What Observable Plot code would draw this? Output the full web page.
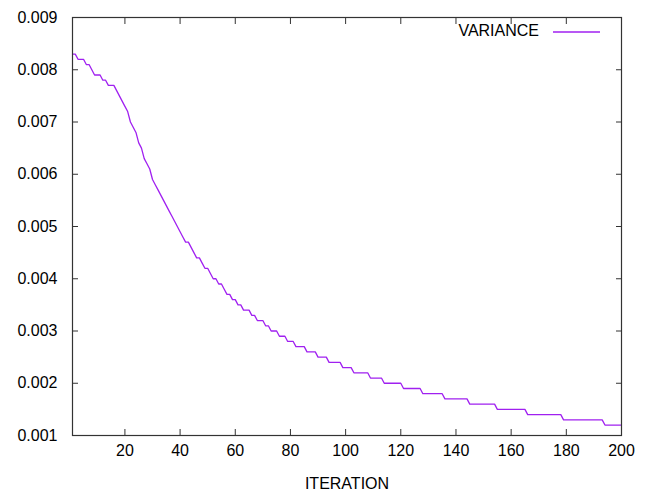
<!DOCTYPE html>
<html>
<head>
<meta charset="utf-8">
<script src="https://cdn.jsdelivr.net/npm/d3@7"></script>
<script src="https://cdn.jsdelivr.net/npm/@observablehq/plot@0.6"></script>
<style>
  html, body { margin: 0; padding: 0; background: #fff; }
  #wrap { position: relative; width: 646px; height: 493px; }
  #legend { position: absolute; left: 0; top: 0; width: 646px; height: 493px; pointer-events: none;
    font-family: "Liberation Sans", Arial, sans-serif; font-size: 16px; color: #000; }
  #legend .lab { position: absolute; right: 107px; top: 21px; line-height: 20px; white-space: nowrap; }
  #legend svg { position: absolute; left: 550px; top: 28px; overflow: visible; }
</style>
</head>
<body>
<div id="wrap"></div>
<script>
// ---- data ----
const seriesName = "VARIANCE";
const xLabel = "ITERATION";
const iterations = d3.range(1, 201);
const variance = [
  0.0083,0.0083,0.0082,0.0082,0.0082,0.0081,0.0081,0.0080,0.0079,0.0079,
  0.0079,0.0078,0.0078,0.0077,0.0077,0.0077,0.0076,0.0075,0.0074,0.0073,
  0.0072,0.0070,0.0069,0.0068,0.0066,0.0065,0.0063,0.0062,0.0061,0.0059,
  0.0058,0.0057,0.0056,0.0055,0.0054,0.0053,0.0052,0.0051,0.0050,0.0049,
  0.0048,0.0047,0.0047,0.0046,0.0045,0.0044,0.0044,0.0043,0.0042,0.0042,
  0.0041,0.0040,0.0040,0.0039,0.0039,0.0038,0.0037,0.0037,0.0036,0.0036,
  0.0035,0.0035,0.0034,0.0034,0.0034,0.0033,0.0033,0.0032,0.0032,0.0032,
  0.0031,0.0031,0.0030,0.0030,0.0030,0.0029,0.0029,0.0029,0.0028,0.0028,
  0.0028,0.0027,0.0027,0.0027,0.0027,0.0026,0.0026,0.0026,0.0026,0.0025,
  0.0025,0.0025,0.0025,0.0024,0.0024,0.0024,0.0024,0.0024,0.0023,0.0023,
  0.0023,0.0023,0.0022,0.0022,0.0022,0.0022,0.0022,0.0022,0.0021,0.0021,
  0.0021,0.0021,0.0021,0.0020,0.0020,0.0020,0.0020,0.0020,0.0020,0.0020,
  0.0019,0.0019,0.0019,0.0019,0.0019,0.0019,0.0019,0.0018,0.0018,0.0018,
  0.0018,0.0018,0.0018,0.0018,0.0018,0.0017,0.0017,0.0017,0.0017,0.0017,
  0.0017,0.0017,0.0017,0.0017,0.0016,0.0016,0.0016,0.0016,0.0016,0.0016,
  0.0016,0.0016,0.0016,0.0016,0.0015,0.0015,0.0015,0.0015,0.0015,0.0015,
  0.0015,0.0015,0.0015,0.0015,0.0015,0.0014,0.0014,0.0014,0.0014,0.0014,
  0.0014,0.0014,0.0014,0.0014,0.0014,0.0014,0.0014,0.0014,0.0013,0.0013,
  0.0013,0.0013,0.0013,0.0013,0.0013,0.0013,0.0013,0.0013,0.0013,0.0013,
  0.0013,0.0013,0.0013,0.0012,0.0012,0.0012,0.0012,0.0012,0.0012,0.0012
];
const xTicks = [20, 40, 60, 80, 100, 120, 140, 160, 180, 200];
const yTicks = [0.001, 0.002, 0.003, 0.004, 0.005, 0.006, 0.007, 0.008, 0.009];

const data = iterations.map((it, i) => ({iteration: it, variance: variance[i]}));
const lineColor = "#a020f0";
const frameColor = "#333";

const plot = Plot.plot({
  width: 646,
  height: 493,
  marginLeft: 72,
  marginRight: 25,
  marginTop: 17,
  marginBottom: 58,
  style: {fontFamily: '"Liberation Sans", Arial, sans-serif', fontSize: "16px", color: "#000", background: "#fff"},
  x: {domain: [1, 200]},
  y: {domain: [0.001, 0.009]},
  marks: [
    Plot.line(data, {x: "iteration", y: "variance", stroke: lineColor, strokeWidth: 1.3}),
    Plot.frame({stroke: frameColor, strokeWidth: 1.2}),
    Plot.axisX(xTicks, {anchor: "bottom", tickSize: 0, tickPadding: 9, label: xLabel, labelAnchor: "center", labelArrow: "none", labelOffset: 53}),
    Plot.axisX(xTicks, {anchor: "bottom", tickSize: -6, fill: "none", stroke: frameColor, label: null}),
    Plot.axisX(xTicks, {anchor: "top", tickSize: -6, fill: "none", stroke: frameColor, label: null}),
    Plot.axisY(yTicks, {anchor: "left", tickSize: 0, tickPadding: 15, tickFormat: d3.format(".3f"), label: null}),
    Plot.axisY(yTicks, {anchor: "left", tickSize: -6, fill: "none", stroke: frameColor, label: null}),
    Plot.axisY(yTicks, {anchor: "right", tickSize: -6, fill: "none", stroke: frameColor, label: null})
  ]
});

const wrap = document.getElementById("wrap");
wrap.appendChild(plot);
const legend = document.createElement("div");
legend.id = "legend";
legend.innerHTML = `<div class="lab"></div><svg width="60" height="10"><line x1="3" y1="4" x2="50" y2="4" stroke="${lineColor}" stroke-width="1.3"/></svg>`;
legend.querySelector(".lab").textContent = seriesName;
wrap.appendChild(legend);
</script>
</body>
</html>
